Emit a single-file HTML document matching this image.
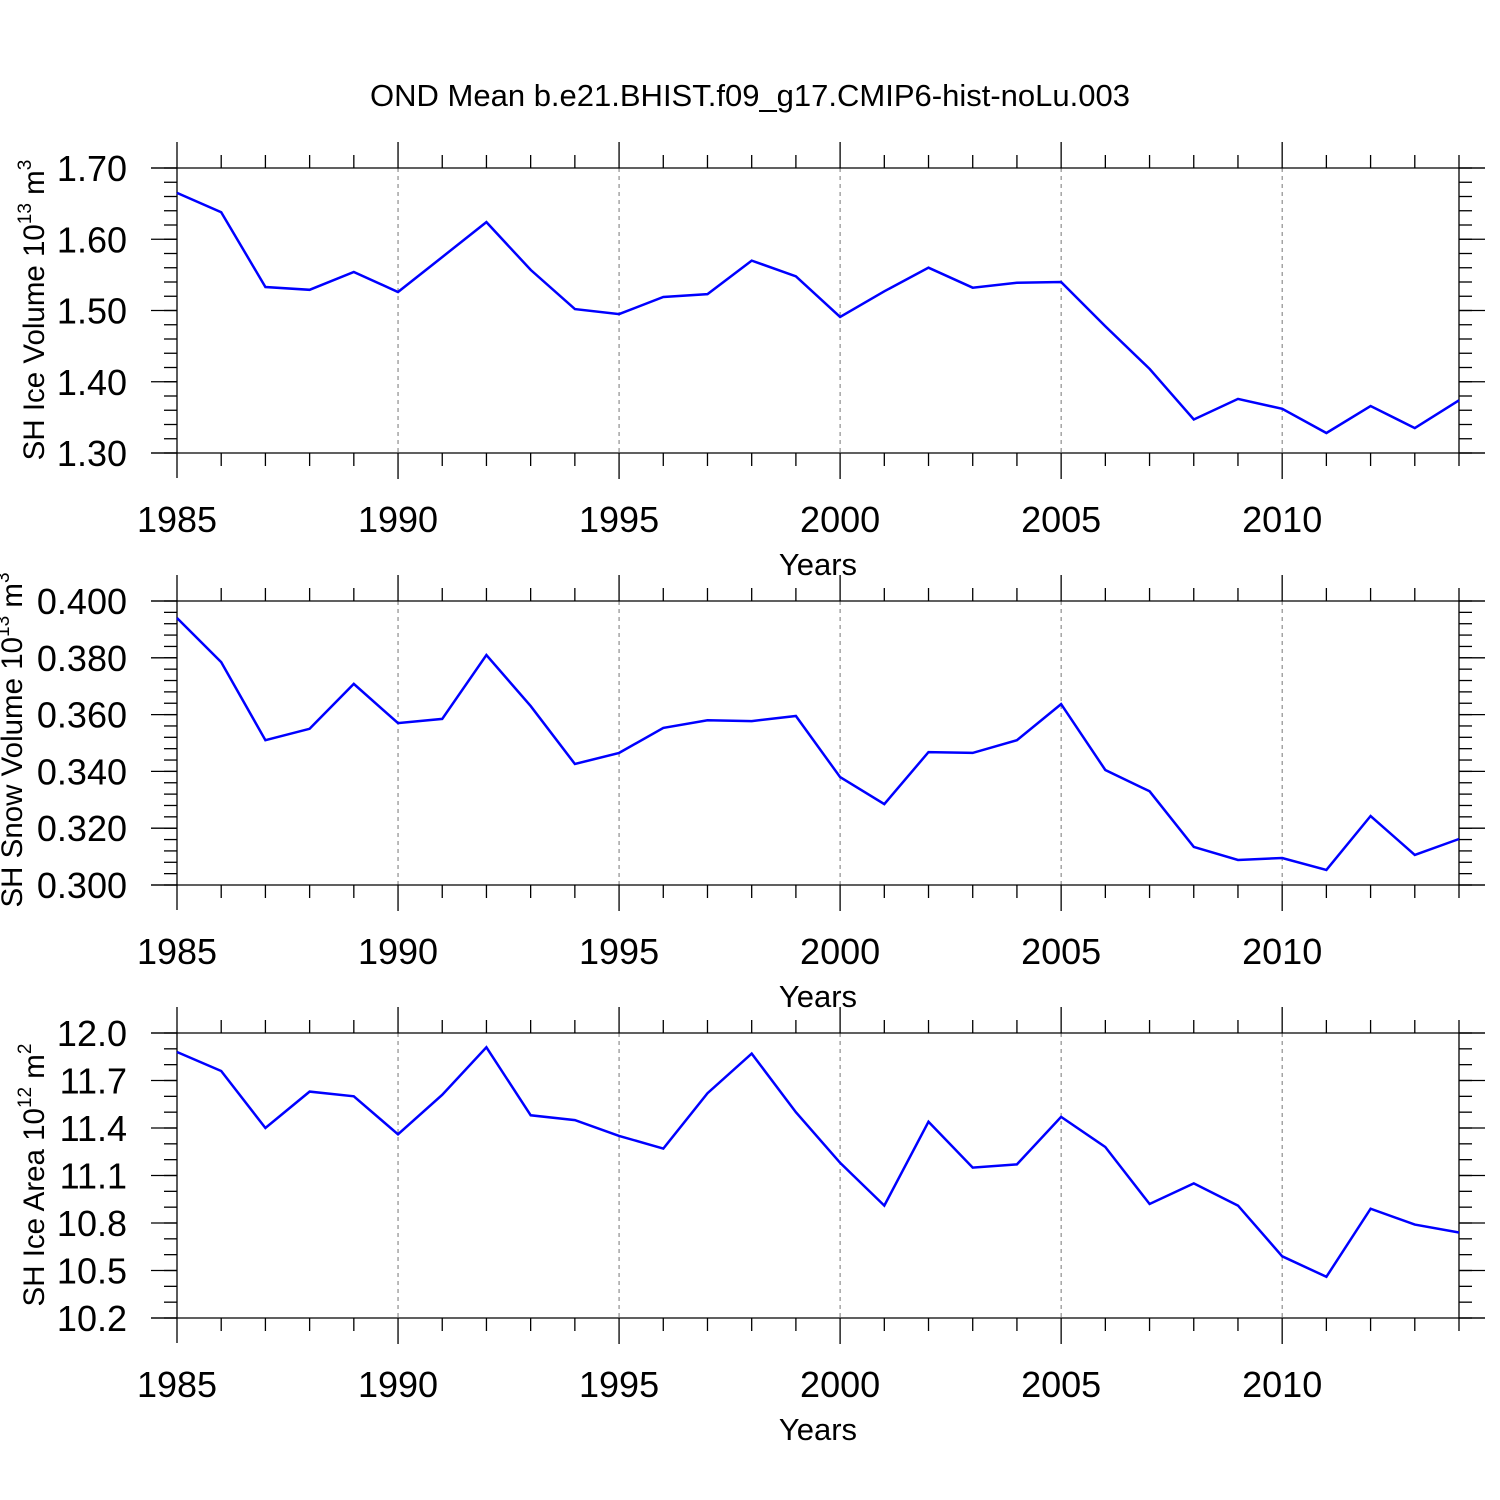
<!DOCTYPE html>
<html><head><meta charset="utf-8"><style>
html,body{margin:0;padding:0;background:#fff;}
svg{display:block;font-family:"Liberation Sans",sans-serif;}
</style></head><body>
<svg id="chart" width="1500" height="1500" viewBox="0 0 1500 1500" xmlns="http://www.w3.org/2000/svg">
<text x="750" y="106" font-size="31" text-anchor="middle">OND Mean b.e21.BHIST.f09_g17.CMIP6-hist-noLu.003</text>
</svg>
<script>
const years = [1985,1986,1987,1988,1989,1990,1991,1992,1993,1994,1995,1996,1997,1998,1999,2000,2001,2002,2003,2004,2005,2006,2007,2008,2009,2010,2011,2012,2013,2014];
const iceVolume = [1.665,1.638,1.533,1.529,1.554,1.526,1.575,1.624,1.557,1.502,1.495,1.519,1.523,1.570,1.548,1.491,1.527,1.560,1.532,1.539,1.540,1.478,1.418,1.347,1.376,1.362,1.328,1.366,1.335,1.374];
const snowVolume = [0.394,0.3785,0.351,0.355,0.3708,0.357,0.3585,0.381,0.363,0.3426,0.3465,0.3553,0.358,0.3577,0.3595,0.338,0.3285,0.3468,0.3465,0.351,0.3637,0.3405,0.333,0.3134,0.3088,0.3095,0.3053,0.3243,0.3106,0.3162];
const iceArea = [11.88,11.76,11.40,11.63,11.60,11.36,11.61,11.91,11.48,11.45,11.35,11.27,11.62,11.87,11.50,11.18,10.91,11.44,11.15,11.17,11.47,11.28,10.92,11.05,10.91,10.59,10.46,10.89,10.79,10.74];
const xTickLabels = [1985,1990,1995,2000,2005,2010];
const volTicks = ["1.30","1.40","1.50","1.60","1.70"];
const snowTicks = ["0.300","0.320","0.340","0.360","0.380","0.400"];
const areaTicks = ["10.2","10.5","10.8","11.1","11.4","11.7","12.0"];

const NS="http://www.w3.org/2000/svg";
const svg=document.getElementById('chart');
function mk(tag,attrs,parent){const e=document.createElementNS(NS,tag);for(const k in attrs)e.setAttribute(k,attrs[k]);(parent||svg).appendChild(e);return e;}
const X0=177,X1=1459;
function xs(yr){return X0+(yr-1985)*(X1-X0)/(2014-1985);}

function panel(name,top,bot,ticks,minorStep,values,titleHTML,titleX,titleY){
  const g=mk('g',{});
  
  
  const lo=parseFloat(ticks[0]),hi=parseFloat(ticks[ticks.length-1]);
  const ys=v=>bot-(v-lo)*(bot-top)/(hi-lo);
  const st={stroke:'#000','stroke-width':1.3};
  for(let yr=1990;yr<=2010;yr+=5){const l=mk('line',{x1:xs(yr),x2:xs(yr),y1:top,y2:bot,stroke:'#777','stroke-width':1,'stroke-dasharray':'4,4'},g);}
  mk('line',Object.assign({x1:151,x2:1485,y1:top,y2:top},st),g);
  mk('line',Object.assign({x1:151,x2:1485,y1:bot,y2:bot},st),g);
  mk('line',Object.assign({x1:X0,x2:X0,y1:top-26,y2:bot+25},st),g);
  mk('line',Object.assign({x1:X1,x2:X1,y1:top-13,y2:bot+13},st),g);
  for(let yr=1986;yr<=2013;yr++){const major=yr%5===0;const len=major?26:13;
    mk('line',Object.assign({x1:xs(yr),x2:xs(yr),y1:top-len,y2:top},st),g);
    mk('line',Object.assign({x1:xs(yr),x2:xs(yr),y1:bot,y2:bot+len},st),g);}
  xTickLabels.forEach(yr=>{const t=mk('text',{x:xs(yr),y:bot+79,'font-size':36,'text-anchor':'middle'},g);t.textContent=yr;});
  const xt=mk('text',{x:818,y:bot+122,'font-size':31,'text-anchor':'middle'},g);xt.textContent='Years';
  
  const nMinor=Math.round((hi-lo)/minorStep);
  for(let i=0;i<=nMinor;i++){const v=lo+i*minorStep;const y=ys(v);
    mk('line',Object.assign({x1:164,x2:X0,y1:y,y2:y},st),g);
    mk('line',Object.assign({x1:X1,x2:1472,y1:y,y2:y},st),g);}
  ticks.forEach(tk=>{const y=ys(parseFloat(tk));
    mk('line',Object.assign({x1:151,x2:X0,y1:y,y2:y},st),g);
    mk('line',Object.assign({x1:X1,x2:1485,y1:y,y2:y},st),g);
    const t=mk('text',{x:127,y:y+13,'font-size':36,'text-anchor':'end'},g);t.textContent=tk;
    });
  const yt=mk('text',{transform:`translate(${titleX},${titleY}) rotate(-90)`,'font-size':29.5,'text-anchor':'middle'},g);
  yt.innerHTML=titleHTML;
  
  const pts=years.map((yr,i)=>xs(yr).toFixed(1)+','+ys(values[i]).toFixed(1)).join(' ');
  const pl=mk('polyline',{points:pts,fill:'none',stroke:'#0000ff','stroke-width':2.5,'stroke-linejoin':'miter'},g);
  
}
panel('ice-volume',168,453,volTicks,0.02,iceVolume,'SH Ice Volume 10<tspan dy="-13" font-size="19">13</tspan><tspan dy="13"> m</tspan><tspan dy="-13" font-size="19">3</tspan>',44,310);
panel('snow-volume',601,885,snowTicks,0.004,snowVolume,'SH Snow Volume 10<tspan dy="-13" font-size="19">13</tspan><tspan dy="13"> m</tspan><tspan dy="-13" font-size="19">3</tspan>',22,740);
panel('ice-area',1033,1318,areaTicks,0.1,iceArea,'SH Ice Area 10<tspan dy="-13" font-size="19">12</tspan><tspan dy="13"> m</tspan><tspan dy="-13" font-size="19">2</tspan>',44,1175);
</script>
</body></html>
